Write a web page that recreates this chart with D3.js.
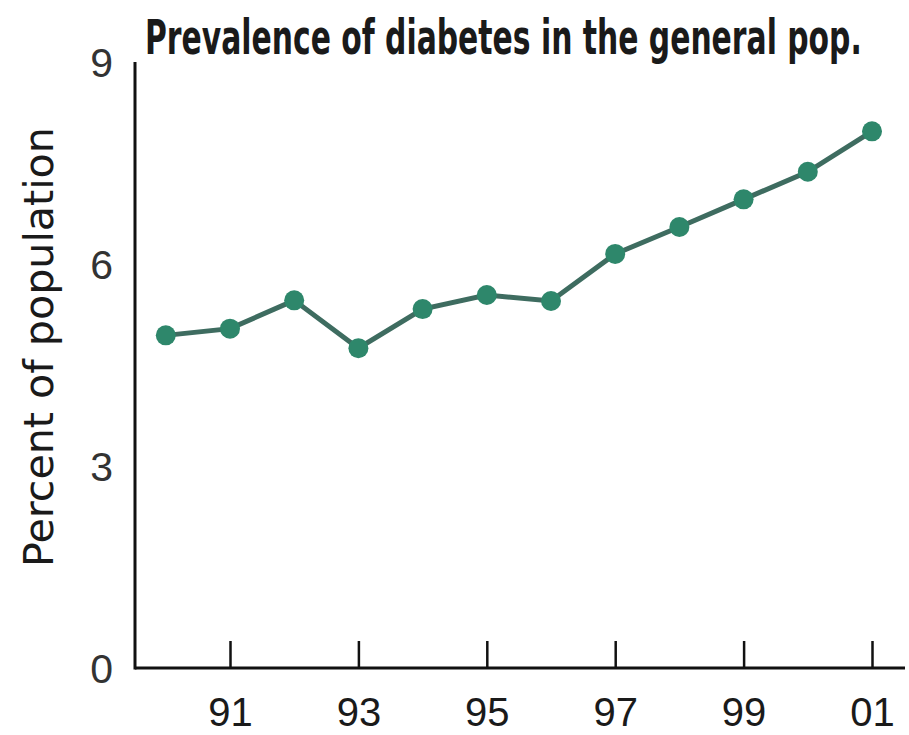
<!DOCTYPE html>
<html>
<head>
<meta charset="utf-8">
<script src="https://cdn.jsdelivr.net/npm/d3@7"></script>
<style>
  body { margin: 0; background: #fff; }
  .axis text { font-family: "Liberation Sans", Arial, sans-serif; fill: #1a1a1a; }
</style>
</head>
<body>
<div id="chart"></div>
<script>
// prevalence of diabetes, percent of population
var years = [1990, 1991, 1992, 1993, 1994, 1995, 1996, 1997, 1998, 1999, 2000, 2001];
var values = [4.94, 5.04, 5.46, 4.75, 5.33, 5.54, 5.45, 6.15, 6.55, 6.96, 7.37, 7.97];
var xTicks = [1991, 1993, 1995, 1997, 1999, 2001];
var yTicks = [0, 3, 6, 9];

var w = 909, h = 735;
var margin = {top: 62, right: 4, bottom: 67, left: 135};

var svg = d3.select("#chart").append("svg")
    .attr("width", w)
    .attr("height", h);

var xScale = d3.scaleLinear()
    .domain([1990, 2001])
    .range([165.8, 872]);

var yScale = d3.scaleLinear()
    .domain([0, 9])
    .range([h - margin.bottom, margin.top]);

var y0 = yScale(0);

// x axis: ticks point up into the plot
var xAxis = d3.axisBottom(xScale)
    .tickValues(xTicks)
    .tickSize(-27)
    .tickSizeOuter(0)
    .tickPadding(30)
    .tickFormat(function(d) { return d3.format("02")(d % 100); });

var xAxisGroup = svg.append("g").attr("class", "axis")
    .attr("transform", "translate(" + [0, y0] + ")")
    .call(xAxis);
xAxisGroup.select(".domain").remove();
xAxisGroup.selectAll(".tick line").attr("stroke", "#111").attr("stroke-width", 2.5);
xAxisGroup.selectAll("text").style("font-size", "40px");

svg.append("line")
    .attr("x1", margin.left).attr("x2", w - margin.right)
    .attr("y1", y0).attr("y2", y0)
    .attr("stroke", "#111").attr("stroke-width", 3);

var yAxis = d3.axisLeft(yScale)
    .tickValues(yTicks)
    .tickSize(0)
    .tickPadding(22);

var yAxisGroup = svg.append("g").attr("class", "axis")
    .attr("transform", "translate(" + [margin.left, 0] + ")")
    .call(yAxis);
yAxisGroup.select(".domain").remove();
yAxisGroup.selectAll("text").style("font-size", "41px").style("fill", "#333").attr("dy", "0.36em");

svg.append("line")
    .attr("x1", margin.left).attr("x2", margin.left)
    .attr("y1", yScale(9)).attr("y2", y0 + 1.5)
    .attr("stroke", "#111").attr("stroke-width", 3);

// y title, squeezed to the reference length
var yTitle = svg.append("text")
    .attr("text-anchor", "middle")
    .style("font-family", "'DejaVu Sans', sans-serif")
    .style("font-size", "40px")
    .style("fill", "#1a1a1a")
    .text("Percent of population");
var ty = 440 / yTitle.node().getComputedTextLength();
yTitle.attr("transform", "translate(53,347) rotate(-90) scale(" + ty + ",1)");

// title, condensed to fit 145..862
var title = svg.append("text")
    .style("font-family", "'Liberation Sans Narrow', 'DejaVu Sans Condensed', sans-serif")
    .style("font-weight", "bold")
    .style("font-size", "48px")
    .style("fill", "#1a1a1a")
    .text("Prevalence of diabetes in the general pop.");
var tx = 717 / title.node().getComputedTextLength();
title.attr("transform", "translate(145,54) scale(" + tx + ",1)");

var data = years.map(function(d, i) { return {x: d, y: values[i]}; });

var line = d3.line()
    .x(function(d) { return xScale(d.x); })
    .y(function(d) { return yScale(d.y); });

svg.append("path")
    .datum(data)
    .attr("d", line)
    .attr("fill", "none")
    .attr("stroke", "#3e6c60")
    .attr("stroke-width", 5);

svg.selectAll("circle").data(data)
    .enter()
    .append("circle")
    .attr("cx", function(d) { return xScale(d.x); })
    .attr("cy", function(d) { return yScale(d.y); })
    .attr("r", 10)
    .attr("fill", "#2e876b");
</script>
</body>
</html>
